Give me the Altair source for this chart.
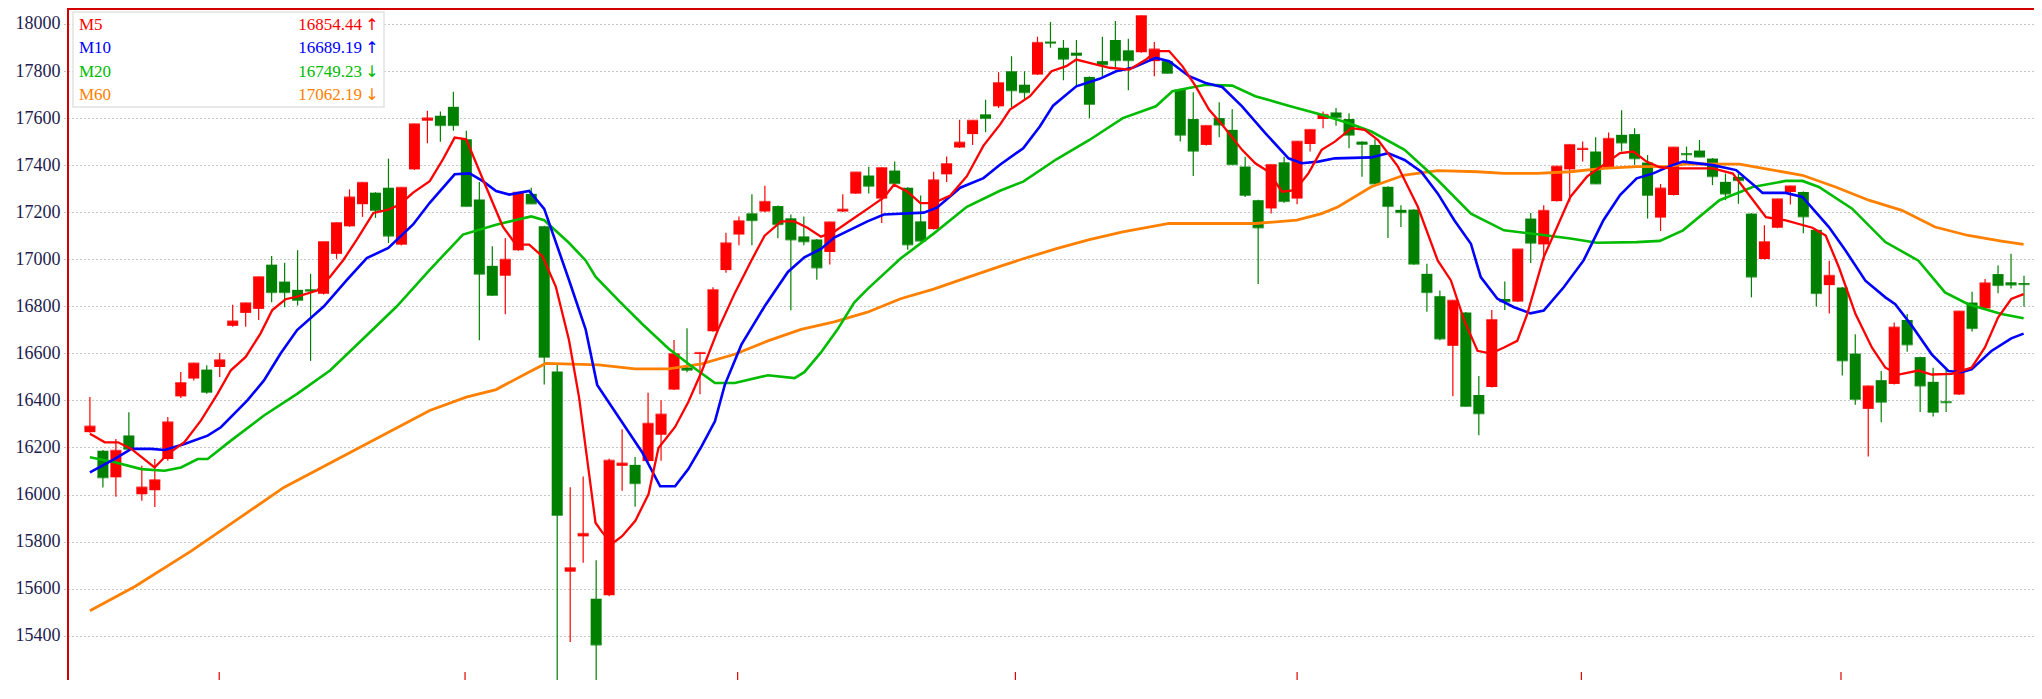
import altair as alt
import pandas as pd

# ---------------- data ----------------
OPEN = [16265, 16186, 16073, 16251, 16001, 16018, 16151, 16417, 16493, 16531,
        16542, 16717, 16772, 16789, 16977, 16905, 16870, 16872, 16853, 17023,
        17140, 17234, 17283, 17304, 17062, 17382, 17589, 17610, 17648, 17510,
        17254, 16972, 16930, 17038, 17278, 17140, 16523, 15672, 15822, 15557,
        15572, 16122, 16126, 16142, 16254, 16446, 16540, 16598, 16694, 16954,
        17105, 17195, 17203, 17226, 17174, 17097, 17084, 17031, 17203, 17279,
        17356, 17258, 17377, 17304, 17161, 17128, 17361, 17475, 17532, 17616,
        17650, 17799, 17742, 17785, 17925, 17899, 17878, 17775, 17842, 17932,
        17888, 17880, 17842, 17842, 17721, 17596, 17486, 17600, 17550, 17394,
        17251, 17216, 17412, 17258, 17490, 17596, 17624, 17596, 17500, 17486,
        17308, 17210, 17211, 16938, 16843, 16632, 16774, 16423, 16457, 16831,
        16820, 17173, 17063, 17247, 17382, 17465, 17458, 17391, 17529, 17532,
        17411, 17177, 17273, 17450, 17462, 17428, 17329, 17350, 17194, 17001,
        17134, 17286, 17286, 17125, 16890, 16880, 16599, 16364, 16486, 16470,
        16742, 16584, 16479, 16395, 16425, 16816, 16791, 16937, 16902, 16898]
HIGH = [16414, 16189, 16236, 16350, 16122, 16151, 16329, 16521, 16560, 16549,
        16602, 16807, 16815, 16926, 17014, 16985, 17038, 16938, 17075, 17156,
        17297, 17328, 17285, 17428, 17306, 17576, 17631, 17628, 17712, 17546,
        17328, 17055, 17090, 17285, 17304, 17142, 16550, 16031, 16076, 15720,
        16152, 16277, 16159, 16433, 16401, 16657, 16707, 16604, 16881, 17113,
        17182, 17276, 17312, 17228, 17190, 17182, 17086, 17159, 17276, 17371,
        17393, 17390, 17415, 17306, 17271, 17372, 17437, 17593, 17591, 17678,
        17795, 17863, 17799, 17946, 18009, 17932, 17932, 17777, 17946, 18013,
        17937, 18036, 17923, 17844, 17723, 17710, 17569, 17667, 17638, 17436,
        17253, 17403, 17436, 17502, 17552, 17628, 17643, 17621, 17502, 17510,
        17310, 17230, 17213, 16981, 16867, 16826, 16776, 16504, 16784, 16905,
        17044, 17197, 17230, 17396, 17488, 17500, 17519, 17539, 17633, 17557,
        17443, 17320, 17477, 17479, 17507, 17430, 17364, 17364, 17196, 17144,
        17257, 17312, 17288, 17127, 16994, 16882, 16681, 16462, 16525, 16731,
        16767, 16586, 16539, 16539, 16780, 16862, 16916, 16973, 17023, 16930]
LOW = [16262, 16030, 15990, 16190, 15973, 15947, 16144, 16410, 16485, 16428,
       16500, 16713, 16713, 16742, 16817, 16796, 16803, 16568, 16850, 17002,
       17138, 17180, 17176, 17069, 17059, 17380, 17493, 17499, 17546, 17224,
       16656, 16845, 16766, 17036, 17235, 16468, 15172, 15373, 15710, 15165,
       15568, 16016, 15948, 16140, 16144, 16444, 16520, 16426, 16692, 16943,
       17060, 17060, 17200, 17089, 16783, 17060, 16913, 16978, 17201, 17277,
       17279, 17154, 17321, 17040, 17077, 17126, 17328, 17473, 17486, 17540,
       17643, 17647, 17678, 17783, 17899, 17761, 17738, 17600, 17778, 17814,
       17718, 17878, 17778, 17790, 17500, 17354, 17484, 17519, 17402, 17265,
       16895, 17194, 17240, 17234, 17458, 17557, 17567, 17472, 17351, 17320,
       17090, 17137, 16977, 16777, 16656, 16418, 16374, 16252, 16455, 16784,
       16818, 16984, 16995, 17245, 17244, 17415, 17320, 17389, 17458, 17401,
       17173, 17120, 17271, 17401, 17434, 17315, 17251, 17236, 16838, 16999,
       17132, 17233, 17111, 16799, 16769, 16506, 16382, 16162, 16307, 16468,
       16607, 16351, 16332, 16351, 16423, 16693, 16789, 16855, 16876, 16798]
CLOSE = [16289, 16073, 16186, 16194, 16030, 16061, 16307, 16474, 16557, 16436,
         16571, 16736, 16813, 16924, 16860, 16860, 16827, 16866, 17073, 17154,
         17263, 17325, 17209, 17100, 17304, 17574, 17599, 17570, 17570, 17226,
         16938, 16848, 16998, 17283, 17237, 16585, 15913, 15687, 15833, 15362,
         16144, 16132, 16048, 16301, 16340, 16597, 16530, 16602, 16869, 17068,
         17162, 17166, 17244, 17149, 17084, 17076, 16965, 17157, 17211, 17369,
         17312, 17388, 17323, 17063, 17079, 17336, 17405, 17496, 17589, 17600,
         17749, 17718, 17710, 17920, 17920, 17852, 17868, 17660, 17828, 17846,
         17846, 18034, 17892, 17792, 17529, 17461, 17567, 17572, 17404, 17273,
         17135, 17401, 17247, 17500, 17550, 17614, 17604, 17529, 17490, 17322,
         17226, 17200, 16981, 16860, 16663, 16824, 16376, 16345, 16742, 16821,
         17042, 17070, 17206, 17394, 17486, 17470, 17322, 17512, 17496, 17429,
         17273, 17301, 17475, 17446, 17436, 17353, 17279, 17336, 16926, 17073,
         17255, 17310, 17182, 16856, 16930, 16570, 16406, 16460, 16394, 16710,
         16638, 16463, 16351, 16392, 16778, 16707, 16898, 16890, 16892, 16894]

# moving-average lines, read as (candle position, value) vertices
M5_X = [0, 1.15, 2.17, 3.19, 4.98, 6.0, 7.28, 8.56, 9.83, 10.86, 12.0, 13.15, 14.05, 15.07,
        15.96, 17.5, 18.52, 19.54, 20.56, 21.84, 23.0, 23.88, 24.9, 26.18, 27.2, 28.1, 28.99,
        30.27, 31.8, 32.82, 33.84, 34.87, 35.89, 36.91, 37.68, 38.95, 39.46, 40.23, 41.0,
        42.02, 43.04, 43.8, 45.08, 46.1, 47.13, 48.4, 49.68, 50.96, 51.98, 53.26, 54.28,
        55.3, 56.32, 57.34, 58.62, 59.9, 61.17, 61.94, 62.96, 63.98, 65.0, 66.28, 67.56,
        68.84, 70.11, 70.88, 72.42, 74.08, 75.22, 75.99, 77.0, 78.55, 80.08, 81.36, 82.12,
        83.14, 84.16, 85.19, 86.21, 87.23, 88.76, 89.78, 90.81, 91.83, 92.85, 93.87, 94.89,
        95.91, 97.19, 98.21, 99.24, 100.77, 102.3, 103.83, 104.85, 105.88, 106.9, 107.92,
        108.94, 109.96, 110.73, 112.0, 113.03, 114.05, 115.33, 116.6, 117.88, 118.9, 119.92,
        120.95, 121.97, 125.03, 126.57, 127.84, 129.12, 130.65, 132.7, 133.72, 134.74,
        136.02, 137.29, 138.32, 139.34, 140.87, 141.89, 143.42, 144.96, 145.98, 147.0,
        148.02, 148.97]
M5_Y = [16258, 16222, 16222, 16194, 16115, 16172, 16222, 16315, 16428, 16528, 16585, 16685,
        16784, 16830, 16841, 16867, 16927, 16998, 17083, 17197, 17211, 17233, 17283, 17332,
        17425, 17517, 17510, 17340, 17140, 17062, 17062, 17012, 16884, 16656, 16414, 15880,
        15840, 15791, 15823, 15888, 16002, 16198, 16287, 16393, 16523, 16702, 16856, 16995,
        17100, 17161, 17161, 17133, 17096, 17117, 17166, 17214, 17263, 17317, 17288, 17239,
        17239, 17271, 17353, 17483, 17572, 17636, 17693, 17799, 17821, 17849, 17835, 17814,
        17806, 17849, 17885, 17885, 17821, 17735, 17636, 17572, 17465, 17408, 17372, 17287,
        17294, 17365, 17465, 17500, 17557, 17550, 17507, 17394, 17223, 16995, 16910, 16739,
        16611, 16599, 16625, 16653, 16767, 17009, 17137, 17265, 17351, 17401, 17451, 17458,
        17415, 17391, 17386, 17386, 17364, 17272, 17179, 17165, 17134, 17101, 16966, 16767,
        16624, 16539, 16510, 16527, 16510, 16513, 16539, 16624, 16752, 16831, 16852]

M10_X = [0, 1.92, 3.19, 4.73, 5.75, 7.28, 9.07, 10.09, 12.13, 13.41, 14.69, 15.96, 18.01,
         19.8, 21.33, 22.99, 24.9, 26.18, 28.1, 29.25, 30.27, 31.29, 32.31, 33.84, 35.0,
         36.9, 38.19, 39.08, 40.74, 42.53, 43.93, 45.08, 46.1, 47.13, 48.15, 48.91, 50.19,
         51.98, 53.77, 55.04, 56.32, 57.34, 59.9, 61.17, 64.24, 65.26, 67.05, 68.84, 70.11,
         71.9, 73.18, 74.2, 75.99, 77.78, 79.06, 80.33, 82.12, 83.14, 84.68, 85.95, 87.23,
         88.76, 90.55, 92.34, 93.36, 94.64, 95.91, 98.72, 100.0, 101.28, 102.56, 103.83,
         105.11, 106.39, 107.15, 108.43, 109.71, 110.98, 112.0, 113.54, 115.07, 116.6,
         117.88, 119.16, 120.44, 121.71, 122.73, 125.03, 126.82, 128.35, 128.86, 130.65,
         131.93, 133.97, 135.25, 136.78, 138.32, 139.08, 140.36, 141.89, 143.17, 144.19,
         144.96, 146.49, 148.02, 148.97]
M10_Y = [16094, 16151, 16194, 16194, 16189, 16215, 16250, 16286, 16400, 16485, 16599, 16699,
         16799, 16912, 17005, 17048, 17148, 17240, 17361, 17365, 17332, 17290, 17275, 17290,
         17214, 16913, 16702, 16466, 16328, 16181, 16035, 16035, 16108, 16206, 16311, 16466,
         16637, 16800, 16946, 17008, 17044, 17092, 17161, 17190, 17198, 17219, 17304, 17345,
         17402, 17472, 17564, 17653, 17735, 17767, 17799, 17814, 17856, 17842, 17778, 17749,
         17732, 17650, 17536, 17429, 17408, 17415, 17429, 17433, 17451, 17422, 17372, 17280,
         17166, 17066, 16924, 16832, 16796, 16770, 16782, 16881, 16995, 17166, 17273, 17344,
         17365, 17396, 17415, 17400, 17379, 17307, 17282, 17282, 17265, 17137, 17037, 16909,
         16838, 16809, 16717, 16596, 16525, 16520, 16532, 16610, 16664, 16684]

M20_X = [0, 1.92, 3.96, 5.75, 7.02, 8.3, 9.07, 10.86, 13.41, 15.96, 18.52, 21.07, 23.63,
         26.18, 28.74, 31.29, 34.0, 35.0, 36.9, 38.19, 38.95, 40.74, 42.53, 44.57, 46.1,
         48.15, 49.68, 52.23, 54.28, 55.04, 56.32, 57.6, 58.88, 59.9, 62.45, 65.0, 67.56,
         70.11, 71.9, 74.46, 77.0, 79.57, 82.12, 83.4, 85.95, 88.0, 89.78, 92.34, 94.89,
         96.94, 98.72, 101.28, 103.83, 106.39, 108.94, 111.5, 114.05, 116.09, 119.16,
         120.95, 122.73, 125.54, 128.1, 130.65, 131.93, 133.2, 135.76, 138.32, 140.87,
         142.91, 144.7, 147.26, 148.97]
M20_Y = [16158, 16137, 16108, 16101, 16115, 16151, 16151, 16229, 16336, 16428, 16528, 16663,
         16799, 16955, 17105, 17147, 17182, 17166, 17070, 16995, 16926, 16824, 16726, 16621,
         16556, 16474, 16474, 16507, 16495, 16520, 16604, 16702, 16816, 16873, 17003, 17109,
         17223, 17291, 17330, 17425, 17507, 17600, 17650, 17714, 17742, 17738, 17693, 17653,
         17614, 17579, 17543, 17465, 17337, 17194, 17123, 17106, 17088, 17070, 17073, 17078,
         17123, 17251, 17307, 17333, 17333, 17307, 17215, 17073, 16994, 16859, 16809, 16767,
         16749]

M60_X = [0, 3.5, 7.79, 14.94, 21.07, 26.18, 28.99, 31.29, 33.84, 35.12, 39.2, 42.0, 44.57,
         47.13, 49.68, 52.23, 54.79, 57.34, 59.9, 62.45, 65.0, 67.56, 70.11, 71.9, 74.46,
         77.0, 79.57, 83.14, 87.23, 89.78, 92.98, 94.89, 96.17, 98.72, 101.28, 103.83, 106.9,
         108.94, 111.5, 114.05, 116.6, 119.16, 121.71, 122.99, 127.08, 131.93, 134.48,
         137.04, 139.59, 142.15, 144.7, 147.26, 148.97]
M60_Y = [15506, 15610, 15759, 16030, 16208, 16357, 16414, 16446, 16521, 16557, 16551, 16534,
         16534, 16555, 16596, 16653, 16702, 16734, 16775, 16832, 16873, 16922, 16970, 17002,
         17045, 17083, 17116, 17152, 17152, 17152, 17166, 17194, 17223, 17308, 17358, 17377,
         17372, 17365, 17365, 17372, 17386, 17394, 17395, 17405, 17404, 17357, 17307, 17251,
         17208, 17137, 17101, 17077, 17063]

GRID_VALUES = [15400, 15600, 15800, 16000, 16200, 16400, 16600, 16800,
               17000, 17200, 17400, 17600, 17800, 18000]
MONTH_TICKS = [9.96, 28.9, 49.9, 71.3, 93.0, 114.9, 134.9]

LEGEND_NAMES = ["M5", "M10", "M20", "M60"]
LEGEND_VALUES = ["16854.44", "16689.19", "16749.23", "17062.19"]
LEGEND_ARROWS = ["\u2191", "\u2191", "\u2193", "\u2193"]

# ---------------- styling ----------------
RED = "#ff0000"
DOWN = "#008000"
BORDER = "#d40000"
LINE_COLORS = ["#ff0000", "#0000ff", "#00bb00", "#ff8000"]
FONT = "Liberation Serif"

W, H = 1966, 672
XDOM = [-1.303, 149.385]
YDOM = [15211.5, 18068.0]

xs = alt.Scale(domain=XDOM, nice=False, zero=False)
ys = alt.Scale(domain=YDOM, nice=False, zero=False)
yaxis = alt.Axis(values=GRID_VALUES, title=None, grid=True, gridDash=[1, 3],
                 gridColor="#8c8c8c", gridOpacity=1, domain=False, tickSize=4,
                 tickColor="#8c8c8c", tickDash=[1, 2], labelFont=FONT, labelFontSize=18,
                 labelColor="#1c1c4e", labelPadding=4, format="d")

candles = pd.DataFrame({"i": list(range(len(OPEN))), "open": OPEN, "high": HIGH,
                        "low": LOW, "close": CLOSE})
candles["dir"] = ["up" if c >= o else "down" for o, c in zip(OPEN, CLOSE)]
color = alt.Color("dir:N", scale=alt.Scale(domain=["up", "down"], range=[RED, DOWN]),
                  legend=None)

x_enc = alt.X("i:Q", scale=xs, axis=None)

wicks = alt.Chart(candles).mark_rule(strokeWidth=1.2, clip=True).encode(
    x=x_enc, y=alt.Y("low:Q", scale=ys, axis=yaxis), y2="high:Q", color=color)
bodies = alt.Chart(candles).mark_bar(size=11, clip=True).encode(
    x=x_enc, y=alt.Y("open:Q", scale=ys, axis=yaxis), y2="close:Q", color=color)
dojis = alt.Chart(candles).mark_tick(orient="horizontal", size=11, thickness=2,
                                     clip=True).encode(
    x=x_enc, y=alt.Y("close:Q", scale=ys, axis=yaxis), color=color)


def ma_line(xv, yv, col, w):
    df = pd.DataFrame({"i": xv, "v": yv})
    return alt.Chart(df).mark_line(color=col, strokeWidth=w, clip=True,
                                   interpolate="linear").encode(
        x=x_enc, y=alt.Y("v:Q", scale=ys, axis=yaxis))


lines = [
    ma_line(M60_X, M60_Y, LINE_COLORS[3], 2.8),
    ma_line(M20_X, M20_Y, LINE_COLORS[2], 2.6),
    ma_line(M10_X, M10_Y, LINE_COLORS[1], 2.6),
    ma_line(M5_X, M5_Y, LINE_COLORS[0], 2.3),
]

ticks_df = pd.DataFrame({"t": MONTH_TICKS})
month_ticks = alt.Chart(ticks_df).mark_rule(color="#e00000", strokeWidth=1.2).encode(
    x=alt.X("t:Q", scale=xs, axis=None), y=alt.value(H - 8), y2=alt.value(H))

one_df = pd.DataFrame({"a": [0]})
left_border = alt.Chart(one_df).mark_rule(color=BORDER, strokeWidth=2).encode(
    x=alt.value(0), y=alt.value(0), y2=alt.value(H))
top_border = alt.Chart(one_df).mark_rule(color=BORDER, strokeWidth=2).encode(
    x=alt.value(0), x2=alt.value(W), y=alt.value(1))

legend_box = alt.Chart(one_df).mark_rect(fill="white", stroke="#e2e2e2",
                                         strokeWidth=1.5).encode(
    x=alt.value(5), x2=alt.value(316), y=alt.value(4), y2=alt.value(99))

legend_layers = []
for k, (nm, val, ar) in enumerate(zip(LEGEND_NAMES, LEGEND_VALUES, LEGEND_ARROWS)):
    row_df = pd.DataFrame({"name": [nm], "val": [val], "arrow": [ar]})
    yy = 16.5 + 23.6 * k
    base = alt.Chart(row_df)
    legend_layers.append(base.mark_text(align="left", baseline="middle", font=FONT,
                                        fontSize=17, color=LINE_COLORS[k]).encode(
        text="name:N", x=alt.value(11), y=alt.value(yy)))
    legend_layers.append(base.mark_text(align="right", baseline="middle", font=FONT,
                                        fontSize=17, color=LINE_COLORS[k]).encode(
        text="val:N", x=alt.value(294), y=alt.value(yy)))
    legend_layers.append(base.mark_text(align="center", baseline="middle", font="DejaVu Sans",
                                        fontSize=16, color=LINE_COLORS[k]).encode(
        text="arrow:N", x=alt.value(304), y=alt.value(yy)))

chart = alt.layer(wicks, bodies, dojis, *lines, month_ticks, left_border, top_border,
                  legend_box, *legend_layers).properties(
    width=W, height=H,
    padding={"left": 60, "top": 0, "right": 0, "bottom": 0},
    autosize=alt.AutoSizeParams(type="none"),
).configure_view(strokeWidth=0).configure(background="white")

chart.save("out.html", embed_options={"renderer": "svg", "actions": False})
